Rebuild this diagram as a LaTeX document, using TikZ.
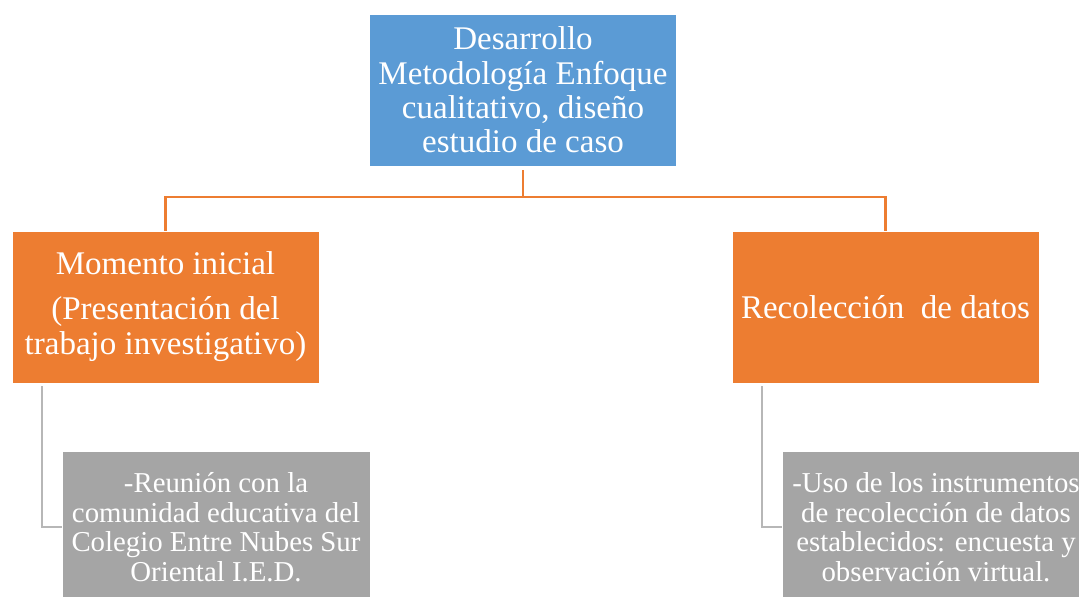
\documentclass[tikz,border=0pt]{standalone}
\usepackage{fontspec}
\setmainfont{Liberation Serif}
\definecolor{smblue}{HTML}{5B9BD5}
\definecolor{smorange}{HTML}{ED7D31}
\definecolor{smgrey}{HTML}{A5A5A5}
\tikzset{
  smbox/.style={draw=white, line width=0.4pt, text=white, align=center, inner sep=1pt,
    minimum width=7.67cm, minimum height=3.8cm},
  headbox/.style={smbox, fill=smblue, font=\fontsize{23.5}{24.5}\selectfont},
  stagebox/.style={smbox, fill=smorange, font=\fontsize{23.5}{25}\selectfont},
  taskbox/.style={smbox, fill=smgrey, minimum width=7.7cm, font=\fontsize{20.5}{21}\selectfont},
  orangeline/.style={draw=smorange, line width=1.7pt},
  greyline/.style={draw=smgrey!80!white, line width=1.8pt}
}
\begin{document}
\begin{tikzpicture}
        \useasboundingbox (0,0) rectangle (26.975,-14.925);
        \clip (0,0) rectangle (26.975,-14.925);
        % The head
        \node[headbox] (desarrollo) at (13.075,-2.25) {Desarrollo\\ Metodología Enfoque\\ cualitativo, diseño\\ estudio de caso};
        % The two stages
        \node[stagebox] (inicial) at (4.1375,-7.675) {Momento inicial\\[7pt] (Presentación del\\ trabajo investigativo)};
        \node[stagebox] (recoleccion) at (22.1375,-7.675) {Recolección~ de datos};
        % The tasks
        \node[taskbox] (reunion) at (5.4,-13.175) {-Reunión con la\\ comunidad educativa del\\ Colegio Entre Nubes Sur\\ Oriental I.E.D.};
        \node[taskbox] (instrumentos) at (23.4,-13.175) {-Uso de los instrumentos\\ de recolección de datos\\ establecidos: encuesta y\\ observación virtual.};
        % Connectors
        \draw[orangeline] ([yshift=-0.1cm]desarrollo.south) -- ++(0,-0.675) coordinate (rama) -| (inicial.north);
        \draw[orangeline] (rama) -| (recoleccion.north);
        \draw[greyline] ([xshift=0.75cm,yshift=-0.07cm]inicial.south west) |- (reunion.west);
        \draw[greyline] ([xshift=0.75cm,yshift=-0.07cm]recoleccion.south west) |- (instrumentos.west);
    \end{tikzpicture}
\end{document}
